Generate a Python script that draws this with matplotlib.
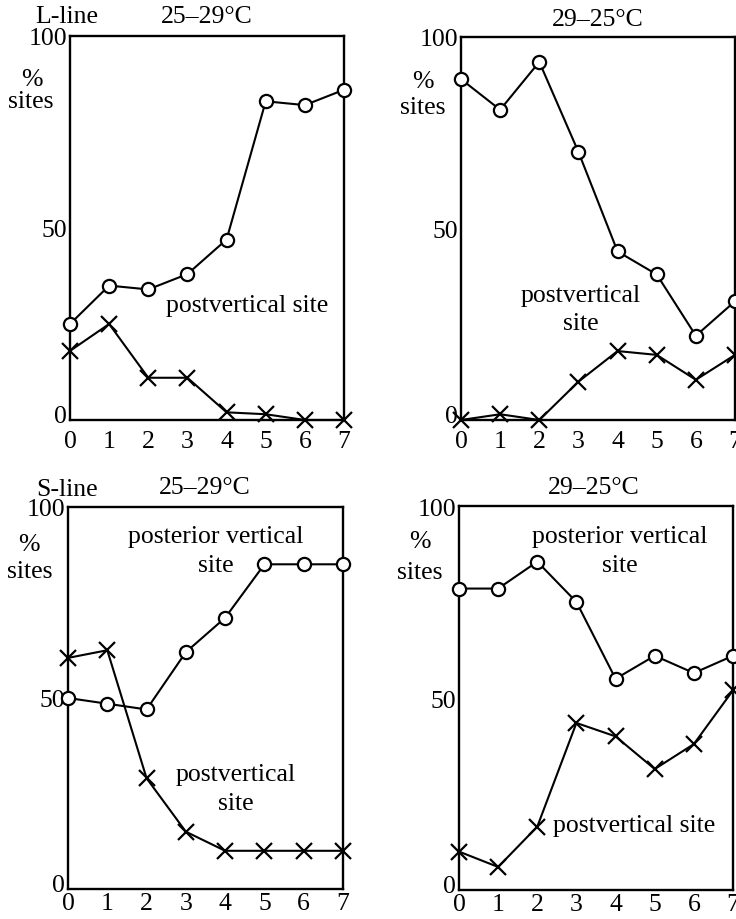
import matplotlib
matplotlib.use("Agg")
import matplotlib.pyplot as plt
from matplotlib.transforms import ScaledTranslation

plt.rcParams["font.family"] = ["Liberation Serif", "DejaVu Serif"]

hours = [0, 1, 2, 3, 4, 5, 6, 7]

# L-line
l_up_post = [25, 35, 34, 38, 47, 83, 82, 86]      # posterior vertical site (circles)
l_up_pv = [18, 25, 11, 11, 2, 1.5, 0, 0]          # postvertical site (crosses)
l_down_post = [89, 81, 93.5, 70, 44, 38, 22, 31]
l_down_pv = [0, 1.5, 0, 10, 18, 17, 10.5, 17]

# S-line
s_up_post = [50, 48.5, 47, 62, 71, 85, 85, 85]
s_up_pv = [60.5, 62.5, 29, 15, 10, 10, 10, 10]
s_down_post = [78.5, 78.5, 85.5, 75, 55, 61, 56.5, 61]
s_down_pv = [10, 6, 16.5, 43.5, 40, 31.5, 38, 52]

W, H = 736, 920
FS = 18.5
fig = plt.figure(figsize=(W / 100, H / 100), dpi=100)


def px_axes(left, top, right, bottom):
    return fig.add_axes([left / W, 1 - bottom / H, (right - left) / W, (bottom - top) / H])


def draw(ax, post, pv, xpad):
    ax.plot(hours, post, color="black", lw=1.5, marker="o", ms=9.5,
            mfc="white", mec="black", mew=1.6, clip_on=False, zorder=3)
    ax.plot(hours, pv, color="black", lw=1.5, marker="x", ms=11.5,
            mew=1.6, clip_on=False, zorder=3)
    ax.set_xlim(0, 7)
    ax.set_ylim(0, 100)
    ax.set_xticks(hours)
    ax.set_yticks([0, 50, 100])
    ax.tick_params(length=0, labelsize=FS)
    ax.tick_params(axis="x", pad=xpad)
    ax.tick_params(axis="y", pad=2)
    # the "0" sits a little above the corner, as in the original
    lab0 = ax.get_yticklabels()[0]
    lab0.set_transform(lab0.get_transform() + ScaledTranslation(0, 5 / 72, fig.dpi_scale_trans))
    for s in ax.spines.values():
        s.set_linewidth(1.7)


def ftext(x, y, s, **kw):
    fig.text(x / W, 1 - y / H, s, ha="center", va="center", fontsize=FS, **kw)


ax1 = px_axes(70, 37, 344, 421)
draw(ax1, l_up_post, l_up_pv, 7)
ax1.text(2.45, 30, "postvertical site", fontsize=FS, ha="left", va="center")

ax2 = px_axes(461, 38, 735, 421)
draw(ax2, l_down_post, l_down_pv, 7)
ax2.text(3.06, 29, "postvertical\nsite", fontsize=FS, ha="center", va="center",
         linespacing=1.4)

ax3 = px_axes(68, 508, 343, 890)
draw(ax3, s_up_post, s_up_pv, 2)
ax3.text(3.75, 88.7, "posterior vertical\nsite", fontsize=FS, ha="center",
         va="center", linespacing=1.4)
ax3.text(4.27, 26.4, "postvertical\nsite", fontsize=FS, ha="center",
         va="center", linespacing=1.4)

ax4 = px_axes(459, 507, 733, 891)
draw(ax4, s_down_post, s_down_pv, 2)
ax4.text(4.1, 88.5, "posterior vertical\nsite", fontsize=FS, ha="center",
         va="center", linespacing=1.4)
ax4.text(2.4, 17, "postvertical site", fontsize=FS, ha="left", va="center")

# headers and y labels
ftext(67, 17, "L-line")
ftext(207, 17, "25–29°C")
ftext(598, 20, "29–25°C")
ftext(67, 490, "S-line")
ftext(205, 488, "25–29°C")
ftext(594, 488, "29–25°C")

for x, y in [(32, 80), (423, 82), (29, 545), (420, 542)]:
    ftext(x, y, "%")
for x, y in [(31, 102), (423, 108), (30, 572), (420, 573)]:
    ftext(x, y, "sites")

fig.savefig("out.png", dpi=100)
